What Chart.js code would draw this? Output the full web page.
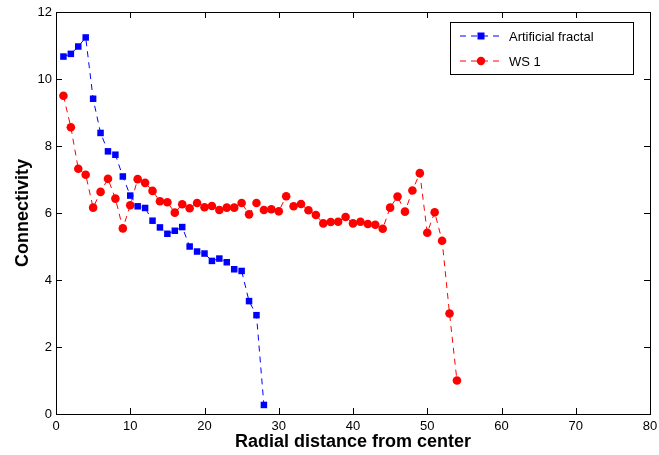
<!DOCTYPE html>
<html>
<head>
<meta charset="utf-8">
<script src="https://cdn.jsdelivr.net/npm/chart.js@4.4.1/dist/chart.umd.min.js"></script>
<style>
  html, body { margin: 0; padding: 0; background: #fff; }
  #wrap { width: 659px; height: 455px; }
</style>
</head>
<body>
<div id="wrap"><canvas id="conn-chart"></canvas></div>
<script>
// data
const fractalX = [1,2,3,4,5,6,7,8,9,10,11,12,13,14,15,16,17,18,19,20,21,22,23,24,25,26,27,28];
const fractalY = [10.67,10.75,10.97,11.24,9.41,8.39,7.84,7.74,7.09,6.52,6.2,6.15,5.77,5.57,5.38,5.47,5.58,5.0,4.85,4.79,4.57,4.64,4.53,4.32,4.27,3.37,2.95,0.27];

const wsX = [1,2,3,4,5,6,7,8,9,10,11,12,13,14,15,16,17,18,19,20,21,22,23,24,25,26,27,28,29,30,31,32,33,34,35,36,37,38,39,40,41,42,43,44,45,46,47,48,49,50,51,52,53,54];
const wsY = [9.5,8.56,7.32,7.14,6.16,6.63,7.02,6.43,5.54,6.23,7.01,6.9,6.66,6.35,6.32,6.01,6.26,6.14,6.3,6.17,6.21,6.09,6.16,6.16,6.3,5.96,6.3,6.09,6.11,6.05,6.5,6.2,6.27,6.08,5.94,5.69,5.73,5.74,5.88,5.69,5.74,5.67,5.65,5.53,6.16,6.49,6.04,6.67,7.19,5.41,6.02,5.17,3.0,1.0];

const seriesNames = ["Artificial fractal", "WS 1"];
const xTicks = [0,10,20,30,40,50,60,70,80];
const yTicks = [0,2,4,6,8,10,12];

const toPoints = (xs, ys) => xs.map((x, i) => ({ x: x, y: ys[i] }));

// matlab style box, inward ticks and boxed legend
const matlabFrame = {
  id: 'matlabFrame',
  afterDraw(chart) {
    const ctx = chart.ctx;
    const a = chart.chartArea;
    const xs = chart.scales.x, ys = chart.scales.y;
    const tl = 6;
    ctx.save();
    ctx.strokeStyle = '#000';
    ctx.lineWidth = 1;
    ctx.setLineDash([]);
    ctx.strokeRect(a.left + 0.5, a.top + 0.5, a.right - a.left, a.bottom - a.top);
    ctx.beginPath();
    xTicks.forEach(v => {
      const px = Math.round(xs.getPixelForValue(v)) + 0.5;
      ctx.moveTo(px, a.bottom); ctx.lineTo(px, a.bottom - tl);
      ctx.moveTo(px, a.top); ctx.lineTo(px, a.top + tl);
    });
    yTicks.forEach(v => {
      const py = Math.round(ys.getPixelForValue(v)) + 0.5;
      ctx.moveTo(a.left, py); ctx.lineTo(a.left + tl, py);
      ctx.moveTo(a.right, py); ctx.lineTo(a.right - tl, py);
    });
    ctx.stroke();

    // legend
    const bw = 183, bh = 52;
    const bx = a.right - 17 - bw, by = a.top + 10;
    ctx.fillStyle = '#fff';
    ctx.fillRect(bx, by, bw, bh);
    ctx.strokeRect(bx + 0.5, by + 0.5, bw, bh);
    ctx.font = '13px "Liberation Sans", Arial, sans-serif';
    ctx.textBaseline = 'middle';
    chart.data.datasets.forEach((ds, i) => {
      const ry = by + 14 + i * 25;
      ctx.strokeStyle = ds.borderColor;
      ctx.setLineDash([6, 5]);
      ctx.beginPath();
      ctx.moveTo(bx + 10, ry); ctx.lineTo(bx + 54, ry);
      ctx.stroke();
      ctx.setLineDash([]);
      ctx.fillStyle = ds.backgroundColor;
      const mx = bx + 31;
      if (ds.pointStyle === 'rect') {
        ctx.fillRect(mx - 3.5, ry - 3.5, 7, 7);
      } else {
        ctx.beginPath();
        ctx.arc(mx, ry, 4.2, 0, Math.PI * 2);
        ctx.fill();
      }
      ctx.fillStyle = '#000';
      ctx.fillText(ds.label, bx + 59, ry + 1);
    });
    ctx.restore();
  }
};

new Chart(document.getElementById("conn-chart"), {
  type: 'line',
  data: {
    datasets: [
      {
        label: seriesNames[0],
        data: toPoints(fractalX, fractalY),
        borderColor: "#0000ff",
        backgroundColor: "#0000ff",
        borderWidth: 1,
        borderDash: [6, 5],
        pointStyle: 'rect',
        pointRadius: 4.6,
        pointBorderWidth: 0,
        fill: false,
        tension: 0
      },
      {
        label: seriesNames[1],
        data: toPoints(wsX, wsY),
        borderColor: "#ff0000",
        backgroundColor: "#ff0000",
        borderWidth: 1,
        borderDash: [6, 5],
        pointStyle: 'circle',
        pointRadius: 4.3,
        pointBorderWidth: 0,
        fill: false,
        tension: 0
      }
    ]
  },
  options: {
    responsive: true,
    maintainAspectRatio: false,
    animation: false,
    layout: { padding: { top: 12, right: 9, left: 0, bottom: 0 } },
    plugins: {
      legend: { display: false },
      tooltip: { enabled: false }
    },
    scales: {
      x: {
        type: 'linear',
        min: 0,
        max: 80,
        afterBuildTicks: s => { s.ticks = xTicks.map(v => ({ value: v })); },
        afterFit: s => { s.height = 41; s.paddingLeft = 0; s.paddingRight = 0; },
        grid: { display: false, drawTicks: false },
        border: { display: false },
        ticks: {
          color: '#000',
          padding: 5,
          font: { family: '"Liberation Sans", Arial, sans-serif', size: 13 }
        },
        title: {
          display: true,
          text: 'Radial distance from center',
          color: '#000',
          padding: { top: 0, bottom: 2 },
          font: { family: '"Liberation Sans", Arial, sans-serif', size: 18, weight: 'bold' }
        }
      },
      y: {
        type: 'linear',
        min: 0,
        max: 12,
        afterBuildTicks: s => { s.ticks = yTicks.map(v => ({ value: v })); },
        afterFit: s => { s.width = 56; },
        grid: { display: false, drawTicks: false },
        border: { display: false },
        ticks: {
          color: '#000',
          padding: 4,
          font: { family: '"Liberation Sans", Arial, sans-serif', size: 13 }
        },
        title: {
          display: true,
          text: 'Connectivity',
          color: '#000',
          padding: { top: 12, bottom: 0 },
          font: { family: '"Liberation Sans", Arial, sans-serif', size: 18, weight: 'bold' }
        }
      }
    }
  },
  plugins: [matlabFrame]
});
</script>
</body>
</html>
